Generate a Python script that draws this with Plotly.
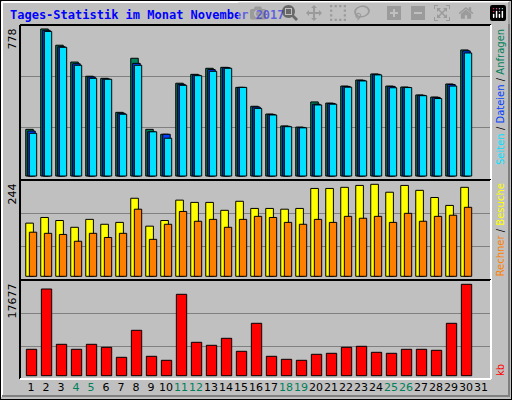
import plotly.graph_objects as go

days = list(range(1, 32))
hits  = [247,778,692,603,528,517,337,623,247,221,491,538,570,575,469,369,328,265,259,392,386,476,508,540,476,471,429,418,487,667,None]
files = [238,771,684,594,524,513,332,596,234,221,485,534,563,573,469,365,326,263,257,380,384,474,506,538,474,469,427,416,484,662,None]
pages = [226,765,681,586,517,512,327,586,234,200,480,531,554,570,469,358,323,261,255,376,380,470,503,535,467,468,425,410,476,651,None]
visits = [141,156,148,130,151,138,143,207,133,148,202,196,196,175,199,180,180,178,180,233,233,236,241,244,223,241,228,209,188,236,None]
sites  = [117,114,111,93,114,103,114,178,98,138,172,146,151,130,151,159,156,143,138,151,143,159,154,159,143,167,146,159,162,183,None]
kbytes = [5106,16768,6073,5106,6073,5493,3559,8780,3752,2978,15743,6460,5880,7233,4719,10134,3752,3172,2978,4139,4332,5493,5686,4526,4332,5106,5106,4912,10134,17677,None]
weekend = {4,5,11,12,18,19,25,26}
ticktext = [f"<span style='color:#00805a'>{d}</span>" if d in weekend else str(d) for d in days]

W, H = 512, 400
x0, x1 = 20, 491
def ydom(top, bot):
    return [1 - bot / H, 1 - top / H]

fig = go.Figure()
line = dict(color="black", width=1)
fig.add_bar(x=days, y=hits, width=0.5, offset=-0.35, marker=dict(color="#00805a", line=line), xaxis="x", yaxis="y")
fig.add_bar(x=days, y=files, width=0.5, offset=-0.22, marker=dict(color="#0040ff", line=line), xaxis="x", yaxis="y")
fig.add_bar(x=days, y=pages, width=0.49, offset=-0.11, marker=dict(color="#00e0ff", line=line), xaxis="x", yaxis="y")
fig.add_bar(x=days, y=visits, width=0.51, offset=-0.35, marker=dict(color="#ffff00", line=line), xaxis="x2", yaxis="y2")
fig.add_bar(x=days, y=sites, width=0.49, offset=-0.11, marker=dict(color="#ff8000", line=line), xaxis="x2", yaxis="y2")
fig.add_bar(x=days, y=kbytes, width=0.69, offset=-0.31, marker=dict(color="#ff0000", line=line), xaxis="x3", yaxis="y3")

xr = [(x0 - 16) / 15, (x1 - 16) / 15]
common_x = dict(range=xr, domain=[x0 / W, x1 / W], showgrid=False, zeroline=False, showline=False)
fig.update_layout(
    width=W, height=H, margin=dict(l=0, r=0, t=0, b=0),
    paper_bgcolor="#c0c0c0", plot_bgcolor="#c0c0c0",
    barmode="overlay", showlegend=False,
    font=dict(family="DejaVu Sans", size=11, color="black"),
    xaxis=dict(**common_x, anchor="y", showticklabels=False),
    xaxis2=dict(**common_x, anchor="y2", showticklabels=False),
    xaxis3=dict(**common_x, anchor="y3", tickmode="array", tickvals=days, ticktext=ticktext,
                ticks="", tickangle=0, tickfont=dict(family="DejaVu Sans", size=11)),
    yaxis=dict(domain=ydom(25, 180), range=[-21, 799], tickvals=[259, 529], showticklabels=False,
               gridcolor="#808080", gridwidth=1, zeroline=False),
    yaxis2=dict(domain=ydom(180, 280), range=[-9.8, 255.4], tickvals=[80, 167], showticklabels=False,
                gridcolor="#808080", gridwidth=1, zeroline=False),
    yaxis3=dict(domain=ydom(280, 379), range=[-638, 18508], tickvals=[5686, 12068], showticklabels=False,
                gridcolor="#808080", gridwidth=1, zeroline=False),
)

def px(xp, yp):
    return xp / W, 1 - yp / H

shapes = []
def seg(xa, ya, xb, yb, color, w=2):
    a, b = px(xa, ya), px(xb, yb)
    shapes.append(dict(type="line", xref="paper", yref="paper", x0=a[0], y0=a[1], x1=b[0], y1=b[1],
                       line=dict(color=color, width=w)))
seg(0, 0.5, 511.5, 0.5, "black", 1); seg(0.5, 0, 0.5, 400, "black", 1)
seg(511.5, 0, 511.5, 400, "black", 1); seg(0, 399.5, 512, 399.5, "black", 1)
seg(2, 2, 509, 2, "white", 2); seg(2, 2, 2, 397, "white", 2)
seg(509, 2, 509, 397, "#808080", 2); seg(2, 396, 509, 396, "#808080", 2)
for top, bot in [(25, 180), (180, 280), (280, 379)]:
    seg(x0, top, x1, top, "black", 2); seg(x0, top, x0, bot, "black", 2)
    seg(x0, bot, x1, bot, "white", 2); seg(x1, top, x1, bot, "white", 2)
fig.update_layout(shapes=shapes)

ann = []
def label(text, xp, yp, anchor_y, color="black", size=11, family="DejaVu Sans"):
    xx, yy = px(xp, yp)
    ann.append(dict(text=text, x=xx, y=yy, xref="paper", yref="paper", showarrow=False, textangle=-90,
                    xanchor="center", yanchor=anchor_y, font=dict(color=color, size=size, family=family)))
label("778", 12, 27, "top")
label("244", 12, 182, "top")
label("17677", 12, 282, "top")
label("<span style='color:#00e0ff'>Seiten</span> / <span style='color:#0040ff'>Dateien</span> / <span style='color:#00805a'>Anfragen</span>",
      500, 27, "top", size=10)
label("<span style='color:#ff8000'>Rechner</span> / <span style='color:#ffff00'>Besuche</span>", 500, 182, "top", size=10)
label("kb", 500, 378, "bottom", color="#ff0000", size=10)
ann.append(dict(text="<b>Tages-Statistik im Monat November 2017</b>", x=8 / W, y=1 - 15 / H, xref="paper", yref="paper",
                showarrow=False, xanchor="left", yanchor="middle",
                font=dict(color="#0000ff", size=12, family="DejaVu Sans Mono")))
fig.update_layout(annotations=ann)

fig.write_html("out.html", post_script="document.body.style.margin='0';")
